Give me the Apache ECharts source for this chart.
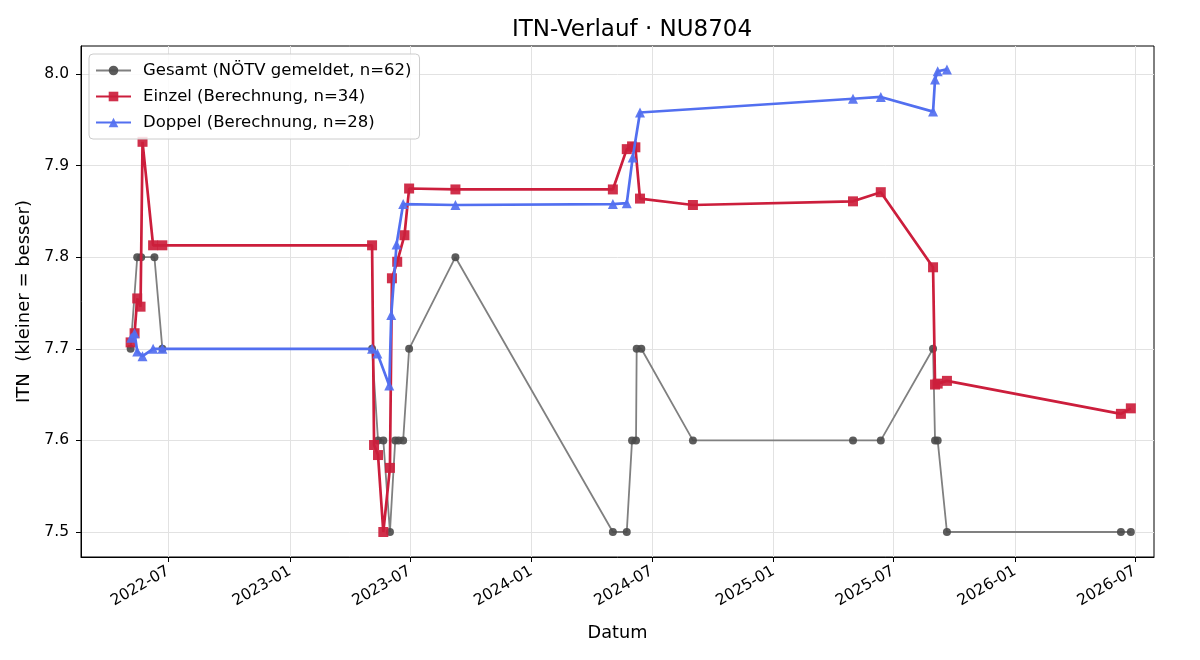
<!DOCTYPE html>
<html>
<head>
<meta charset="utf-8">
<script src="https://cdn.jsdelivr.net/npm/echarts@6/dist/echarts.min.js"></script>
<style>
  html, body { margin: 0; padding: 0; background: #fff; }
  #chart { width: 1200px; height: 660px; }
</style>
</head>
<body>
<div id="chart"></div>
<script>
// Gesamt (NÖTV gemeldet)
var gesamtDates = ['2022-05-05', '2022-05-15', '2022-05-21', '2022-06-10', '2022-06-22',
  '2023-05-05', '2023-05-14', '2023-05-22', '2023-06-01', '2023-06-09', '2023-06-14', '2023-06-21', '2023-06-30',
  '2023-09-08', '2024-05-03', '2024-05-24', '2024-06-01', '2024-06-07', '2024-06-08', '2024-06-15',
  '2024-09-01', '2025-05-01', '2025-06-12', '2025-08-30', '2025-09-02', '2025-09-06', '2025-09-20',
  '2026-06-10', '2026-06-25'];
var gesamtValues = [7.7, 7.8, 7.8, 7.8, 7.7,
  7.7, 7.6, 7.6, 7.5, 7.6, 7.6, 7.6, 7.7,
  7.8, 7.5, 7.5, 7.6, 7.6, 7.7, 7.7,
  7.6, 7.6, 7.6, 7.7, 7.6, 7.6, 7.5,
  7.5, 7.5];

// Einzel (Berechnung)
var einzelDates = ['2022-05-05', '2022-05-11', '2022-05-15', '2022-05-20', '2022-05-23', '2022-06-08', '2022-06-22',
  '2023-05-05', '2023-05-08', '2023-05-14', '2023-05-22', '2023-06-01', '2023-06-04', '2023-06-12', '2023-06-23', '2023-06-30',
  '2023-09-08', '2024-05-03', '2024-05-24', '2024-06-01', '2024-06-06', '2024-06-13',
  '2024-09-01', '2025-05-01', '2025-06-12', '2025-08-30', '2025-09-02', '2025-09-06', '2025-09-20',
  '2026-06-10', '2026-06-25'];
var einzelValues = [7.707, 7.717, 7.755, 7.746, 7.926, 7.813, 7.813,
  7.813, 7.595, 7.584, 7.500, 7.570, 7.777, 7.795, 7.824, 7.875,
  7.874, 7.874, 7.918, 7.921, 7.920, 7.864,
  7.857, 7.861, 7.871, 7.789, 7.661, 7.662, 7.665,
  7.629, 7.635];

// Doppel (Berechnung)
var doppelDates = ['2022-05-06', '2022-05-11', '2022-05-15', '2022-05-23', '2022-06-08', '2022-06-22',
  '2023-05-05', '2023-05-13', '2023-05-31', '2023-06-03', '2023-06-11', '2023-06-21',
  '2023-09-08', '2024-05-03', '2024-05-24', '2024-06-02', '2024-06-13',
  '2025-05-01', '2025-06-12', '2025-08-30', '2025-09-02', '2025-09-06', '2025-09-20'];
var doppelValues = [7.712, 7.717, 7.697, 7.692, 7.700, 7.700,
  7.700, 7.695, 7.660, 7.737, 7.814, 7.858,
  7.857, 7.858, 7.859, 7.909, 7.958,
  7.973, 7.975, 7.959, 7.994, 8.003, 8.005];

var xTickLabels = ['2022-07', '2023-01', '2023-07', '2024-01', '2024-07', '2025-01', '2025-07', '2026-01', '2026-07'];
var yTickLabels = [7.5, 7.6, 7.7, 7.8, 7.9, 8.0];

function toTime(s) {
  var p = s.split('-');
  return Date.UTC(+p[0], +p[1] - 1, p[2] ? +p[2] : 1);
}
function pairs(dates, values) {
  return dates.map(function (d, i) { return [toTime(d), values[i]]; });
}
function pad(n) { return n < 10 ? '0' + n : '' + n; }

var xTicks = xTickLabels.map(toTime);
var font = 'DejaVu Sans';

var chart = echarts.init(document.getElementById('chart'));
chart.setOption({
  animation: false,
  backgroundColor: '#fff',
  textStyle: { fontFamily: font },
  title: {
    text: 'ITN-Verlauf · NU8704',
    left: 627,
    textAlign: 'center',
    top: 14,
    textStyle: { fontFamily: font, fontSize: 23, fontWeight: 'normal', color: '#000' }
  },
  grid: {
    left: 81, right: 46, top: 46, bottom: 103,
    show: true, borderColor: '#000', borderWidth: 1
  },
  legend: {
    orient: 'vertical',
    left: 89, top: 54,
    padding: [8, 8, 8, 6],
    itemGap: 9,
    itemWidth: 35,
    itemHeight: 12,
    backgroundColor: 'rgba(255,255,255,0.85)',
    borderColor: '#cccccc',
    borderWidth: 1,
    borderRadius: 4,
    textStyle: { fontFamily: font, fontSize: 16.5, color: '#000', padding: [0, 0, 0, 7] },
    data: ['Gesamt (NÖTV gemeldet, n=62)', 'Einzel (Berechnung, n=34)', 'Doppel (Berechnung, n=28)']
  },
  xAxis: {
    type: 'value',
    min: toTime('2022-02-19'),
    max: toTime('2026-07-30'),
    name: 'Datum',
    nameLocation: 'middle',
    nameGap: 67,
    nameTextStyle: { fontFamily: font, fontSize: 17.7, color: '#000' },
    axisLine: { show: true, onZero: false, lineStyle: { color: '#000' } },
    axisTick: { show: true, length: 5, lineStyle: { color: '#000' }, customValues: xTicks },
    axisLabel: {
      customValues: xTicks,
      rotate: 30,
      margin: 13,
      fontFamily: font,
      fontSize: 15.5,
      color: '#000',
      formatter: function (v) {
        var d = new Date(v);
        return d.getUTCFullYear() + '-' + pad(d.getUTCMonth() + 1);
      }
    },
    splitLine: { show: true, lineStyle: { color: '#e2e2e2', width: 1 } }
  },
  yAxis: {
    type: 'value',
    min: 7.4727,
    max: 8.0306,
    name: 'ITN  (kleiner = besser)',
    nameLocation: 'middle',
    nameGap: 46,
    nameTextStyle: { fontFamily: font, fontSize: 18, color: '#000' },
    axisLine: { show: true, onZero: false, lineStyle: { color: '#000' } },
    axisTick: { show: true, length: 5, lineStyle: { color: '#000' }, customValues: yTickLabels },
    axisLabel: {
      customValues: yTickLabels,
      margin: 12,
      fontFamily: font,
      fontSize: 15.5,
      color: '#000',
      formatter: function (v) { return v.toFixed(1); }
    },
    splitLine: { show: true, lineStyle: { color: '#e2e2e2', width: 1 } }
  },
  series: [
    {
      name: 'Gesamt (NÖTV gemeldet, n=62)',
      type: 'line',
      data: pairs(gesamtDates, gesamtValues),
      symbol: 'circle',
      symbolSize: 8,
      showAllSymbol: true,
      lineStyle: { color: '#808080', width: 1.8 },
      itemStyle: { color: '#4a4a4a', opacity: 0.9 },
      z: 2
    },
    {
      name: 'Einzel (Berechnung, n=34)',
      type: 'line',
      data: pairs(einzelDates, einzelValues),
      symbol: 'rect',
      symbolSize: 10,
      showAllSymbol: true,
      lineStyle: { color: '#cc1e3c', width: 2.7 },
      itemStyle: { color: '#cc1e3c', opacity: 0.92 },
      z: 3
    },
    {
      name: 'Doppel (Berechnung, n=28)',
      type: 'line',
      data: pairs(doppelDates, doppelValues),
      symbol: 'triangle',
      symbolSize: 10,
      showAllSymbol: true,
      lineStyle: { color: '#526ff0', width: 2.7 },
      itemStyle: { color: '#526ff0', opacity: 0.92 },
      z: 4
    }
  ]
});
</script>
</body>
</html>
